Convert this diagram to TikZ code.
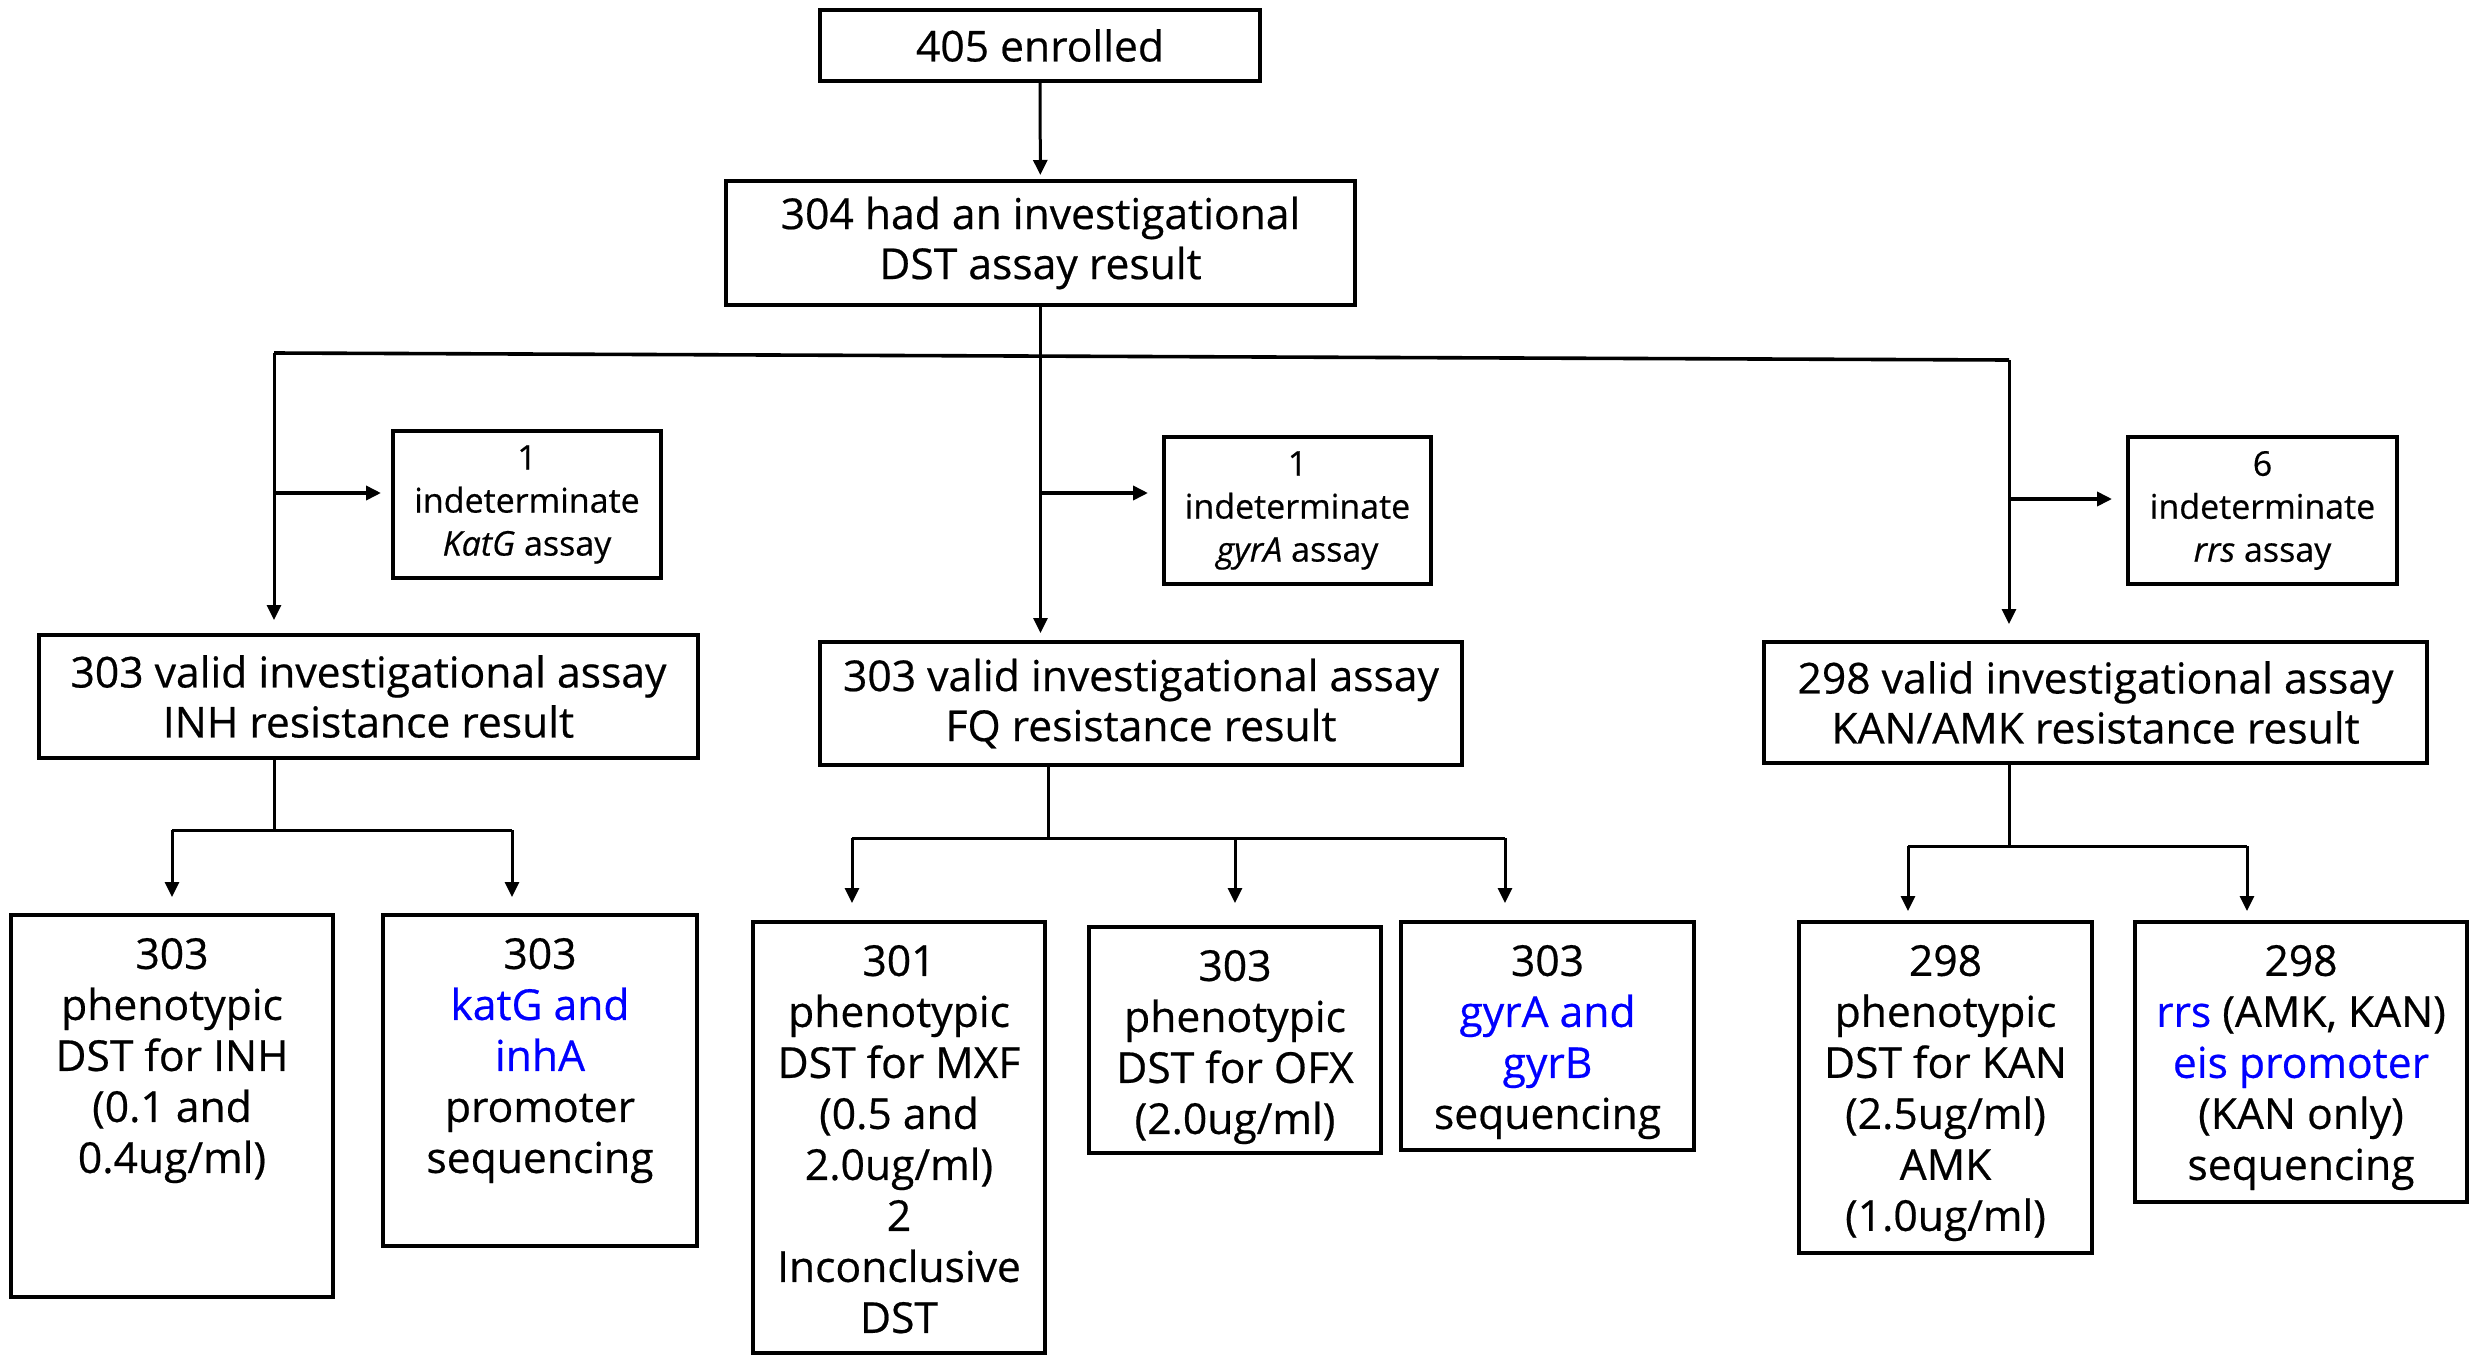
\documentclass[tikz,border=0pt]{standalone}
\usepackage{fontspec}
\setmainfont{Open Sans}[FakeBold=0.5]
\usetikzlibrary{arrows.meta}
\definecolor{gblue}{RGB}{0,0,255}
\newcommand\tbx[3]{\parbox[c][#2][t]{#1}{\vspace*{11.5pt}\centering\fontsize{21.3pt}{25.5pt}\selectfont #3\par}}
\begin{document}
\begin{tikzpicture}[x=0.5pt,y=-0.5pt,
  box/.style={draw,line width=2pt,inner sep=0pt,align=center},
  bigf/.style={font=\fontsize{21.3pt}{25pt}\selectfont},
  smallf/.style={font=\fontsize{17pt}{21.5pt}\selectfont},
  conn/.style={line width=1.5pt},
  arr/.style={conn,-{Triangle[length=7.5pt,width=7pt]}}]
\useasboundingbox (0,0) rectangle (2469,1355);

% top boxes
\node[box,bigf,minimum width=220pt,minimum height=35.5pt] (A) at (1040,45.5) {405 enrolled};
\node[box,bigf,minimum width=314.5pt,minimum height=62pt] (B) at (1040.5,243) {304 had an investigational\\DST assay result};

% indeterminate boxes
\node[box,smallf,minimum width=134pt,minimum height=73.5pt] (K1) at (527,504.5) {1\\indeterminate\\\textit{KatG} assay};
\node[box,smallf,minimum width=133.5pt,minimum height=73.5pt] (K2) at (1297.5,510.5) {1\\indeterminate\\\textit{gyrA} assay};
\node[box,smallf,minimum width=134.5pt,minimum height=73.5pt] (K3) at (2262.5,510.5) {6\\indeterminate\\\textit{rrs} assay};

% valid boxes
\node[box,bigf,minimum width=329.5pt,minimum height=61.5pt] (V1) at (368.5,696.5) {303 valid investigational assay\\INH resistance result};
\node[box,bigf,minimum width=321pt,minimum height=61.5pt] (V2) at (1141,703.5) {303 valid investigational assay\\FQ resistance result};
\node[box,bigf,minimum width=331.5pt,minimum height=60.5pt] (V3) at (2095.5,702.5) {298 valid investigational assay\\KAN/AMK resistance result};

% bottom boxes
\node[box] (C1) at (172,1106) {\tbx{161pt}{191pt}{303\\phenotypic\\DST for INH\\(0.1 and\\0.4ug/ml)}};
\node[box] (C2) at (540,1080.5) {\tbx{157pt}{165.5pt}{303\\\textcolor{gblue}{katG and}\\\textcolor{gblue}{inhA}\\promoter\\sequencing}};
\node[box] (C3) at (899,1137.5) {\tbx{146pt}{215.5pt}{301\\phenotypic\\DST for MXF\\(0.5 and\\2.0ug/ml)\\2\\Inconclusive\\DST}};
\node[box] (C4) at (1235,1040) {\tbx{146pt}{113pt}{303\\phenotypic\\DST for OFX\\(2.0ug/ml)}};
\node[box] (C5) at (1547.5,1036) {\tbx{146.5pt}{114pt}{303\\\textcolor{gblue}{gyrA and}\\\textcolor{gblue}{gyrB}\\sequencing}};
\node[box] (C6) at (1945.5,1087.5) {\tbx{146.5pt}{165.5pt}{298\\phenotypic\\DST for KAN\\(2.5ug/ml)\\AMK\\(1.0ug/ml)}};
\node[box] (C7) at (2301,1062) {\tbx{166pt}{140pt}{298\\\textcolor{gblue}{rrs} (AMK, KAN)\\\textcolor{gblue}{eis promoter}\\(KAN only)\\sequencing}};

% top connectors
\draw[arr,shorten >=2pt] (A) -- (B);
\coordinate (J) at (1040.5,356);
\coordinate (L) at (274,353);
\coordinate (R) at (2009,360);
\draw[conn] (B.south) -- (J);
\draw[conn,line width=1.8pt] (L) -- (R);
\draw[arr,shorten >=6.5pt] (L) -- (L |- V1.north);
\draw[arr,shorten >=3.5pt] (J) -- (J |- V2.north);
\draw[arr,shorten >=8pt] (R) -- (R |- V3.north);

% side arrows
\coordinate (sL) at (274,493);
\coordinate (sM) at (1040.5,493);
\coordinate (sR) at (2009,499);
\draw[arr,line width=1.8pt,shorten >=5pt] (sL) -- (sL -| K1.west);
\draw[arr,line width=1.8pt,shorten >=7pt] (sM) -- (sM -| K2.west);
\draw[arr,line width=1.8pt,shorten >=7pt] (sR) -- (sR -| K3.west);

% INH branch
\coordinate (hI) at (274,830);
\coordinate (hI1) at (172,830);
\coordinate (hI2) at (512,830);
\draw[conn] (hI |- V1.south) -- (hI);
\draw[conn] (hI1) -- (hI2);
\draw[arr,shorten >=8pt] (hI1) -- (hI1 |- C1.north);
\draw[arr,shorten >=8pt] (hI2) -- (hI2 |- C2.north);

% FQ branch
\coordinate (hF) at (1048,838);
\coordinate (hF1) at (852,838);
\coordinate (hF2) at (1235,838);
\coordinate (hF3) at (1505,838);
\draw[conn] (hF |- V2.south) -- (hF);
\draw[conn] (hF1) -- (hF3);
\draw[arr,shorten >=8.5pt] (hF1) -- (hF1 |- C3.north);
\draw[arr,shorten >=11pt] (hF2) -- (hF2 |- C4.north);
\draw[arr,shorten >=8.5pt] (hF3) -- (hF3 |- C5.north);

% KAN branch
\coordinate (hK) at (2009,846);
\coordinate (hK1) at (1908,846);
\coordinate (hK2) at (2247,846);
\draw[conn] (hK |- V3.south) -- (hK);
\draw[conn] (hK1) -- (hK2);
\draw[arr,shorten >=4.5pt] (hK1) -- (hK1 |- C6.north);
\draw[arr,shorten >=4.5pt] (hK2) -- (hK2 |- C7.north);
\end{tikzpicture}
\end{document}
